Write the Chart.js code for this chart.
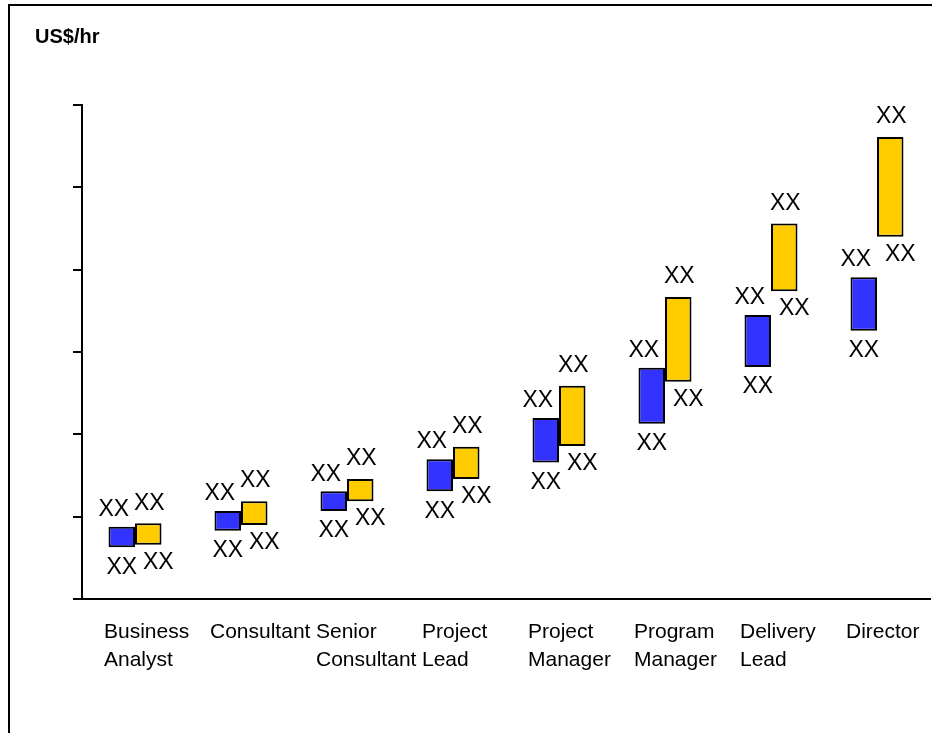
<!DOCTYPE html>
<html>
<head>
<meta charset="utf-8">
<script src="https://cdn.jsdelivr.net/npm/chart.js@4"></script>
<style>
  body { margin: 0; background: #fff; }
  #frame {
    position: absolute; left: 8px; top: 4px; width: 2000px; height: 2000px;
    border-left: 2px solid #000; border-top: 2px solid #000;
  }
  #wrap { position: absolute; left: 0; top: 0; width: 932px; height: 733px; }
</style>
</head>
<body>
<div id="frame"></div>
<div id="wrap"><canvas id="rateChart" width="932" height="733"></canvas></div>
<script>
// roles along the x axis
const categories = [
  ["Business", "Analyst"],
  "Consultant",
  ["Senior", "Consultant"],
  ["Project", "Lead"],
  ["Project", "Manager"],
  ["Program", "Manager"],
  ["Delivery", "Lead"],
  "Director"
];

// rate ranges (low / high)
const blueLow = [6.3, 8.3, 10.7, 13.1, 16.6, 21.3, 28.2, 32.6];
const blueHigh = [8.8, 10.7, 13.1, 17.0, 22.0, 28.1, 34.5, 39.1];
const yellowLow = [6.6, 9.0, 11.9, 14.6, 18.6, 26.4, 37.4, 44.0];
const yellowHigh = [9.2, 11.9, 14.6, 18.5, 25.9, 36.7, 45.6, 56.1];

// placeholder value labels
const blueLowText = ["XX", "XX", "XX", "XX", "XX", "XX", "XX", "XX"];
const blueHighText = ["XX", "XX", "XX", "XX", "XX", "XX", "XX", "XX"];
const yellowLowText = ["XX", "XX", "XX", "XX", "XX", "XX", "XX", "XX"];
const yellowHighText = ["XX", "XX", "XX", "XX", "XX", "XX", "XX", "XX"];

// y axis ticks (no labels shown)
const yMin = 0;
const yMax = 60;
const yStep = 10;

const FONT = "Arial, 'Liberation Sans', sans-serif";

const toRange = (lo, hi) => lo.map((v, i) => [v, hi[i]]);

// draws the XX above and below each bar
const rangeLabels = {
  id: "rangeLabels",
  afterDatasetsDraw(chart) {
    const ctx = chart.ctx;
    const texts = [
      [blueHighText, blueLowText],
      [yellowHighText, yellowLowText]
    ];
    // [dx top, gap top, dx bottom, gap bottom]
    const nudge = [
      [-8, 17, 0, 20],
      [1, 20, 10, 18]
    ];
    ctx.save();
    ctx.font = "23px " + FONT;
    ctx.fillStyle = "#000";
    ctx.textAlign = "center";
    ctx.textBaseline = "middle";
    chart.data.datasets.forEach((ds, di) => {
      const meta = chart.getDatasetMeta(di);
      const n = nudge[di];
      meta.data.forEach((bar, i) => {
        const top = Math.min(bar.y, bar.base);
        const bottom = Math.max(bar.y, bar.base);
        ctx.fillText(texts[di][0][i], bar.x + n[0], top - n[1]);
        ctx.fillText(texts[di][1][i], bar.x + n[2], bottom + n[3]);
      });
    });
    ctx.restore();
  }
};

new Chart(document.getElementById("rateChart"), {
  type: "bar",
  data: {
    labels: categories,
    datasets: [
      {
        label: "Low",
        data: toRange(blueLow, blueHigh),
        backgroundColor: "#3333FF",
        borderColor: "#000",
        borderWidth: 2,
        borderSkipped: false
      },
      {
        label: "High",
        data: toRange(yellowLow, yellowHigh),
        backgroundColor: "#FFCC00",
        borderColor: "#000",
        borderWidth: 2,
        borderSkipped: false
      }
    ]
  },
  options: {
    responsive: false,
    animation: false,
    categoryPercentage: 0.5,
    barPercentage: 1.0,
    layout: { padding: { left: 35, top: 10, right: 2, bottom: 40 } },
    plugins: {
      legend: { display: false },
      tooltip: { enabled: false },
      title: {
        display: true,
        text: "US$/hr",
        align: "start",
        color: "#000",
        font: { family: FONT, size: 20, weight: "bold", lineHeight: 1.2 },
        padding: { top: 15, bottom: 56 }
      }
    },
    scales: {
      x: {
        // labels may run past the last category, as in the original
        afterFit(scale) { scale.paddingLeft = 0; scale.paddingRight = 0; },
        grid: { display: false, drawTicks: false },
        border: { display: true, color: "#000", width: 2 },
        ticks: {
          color: "#000",
          font: { family: FONT, size: 21, lineHeight: 1.33 },
          align: "start",
          labelOffset: -31,
          padding: 19,
          maxRotation: 0,
          autoSkip: false
        }
      },
      y: {
        min: yMin,
        max: yMax,
        afterFit(scale) { scale.width = 47; },
        grid: {
          drawOnChartArea: false,
          drawTicks: true,
          tickLength: 9,
          color: "#000",
          lineWidth: 2
        },
        border: { display: true, color: "#000", width: 2 },
        ticks: { display: false, stepSize: yStep }
      }
    }
  },
  plugins: [rangeLabels]
});
</script>
</body>
</html>
